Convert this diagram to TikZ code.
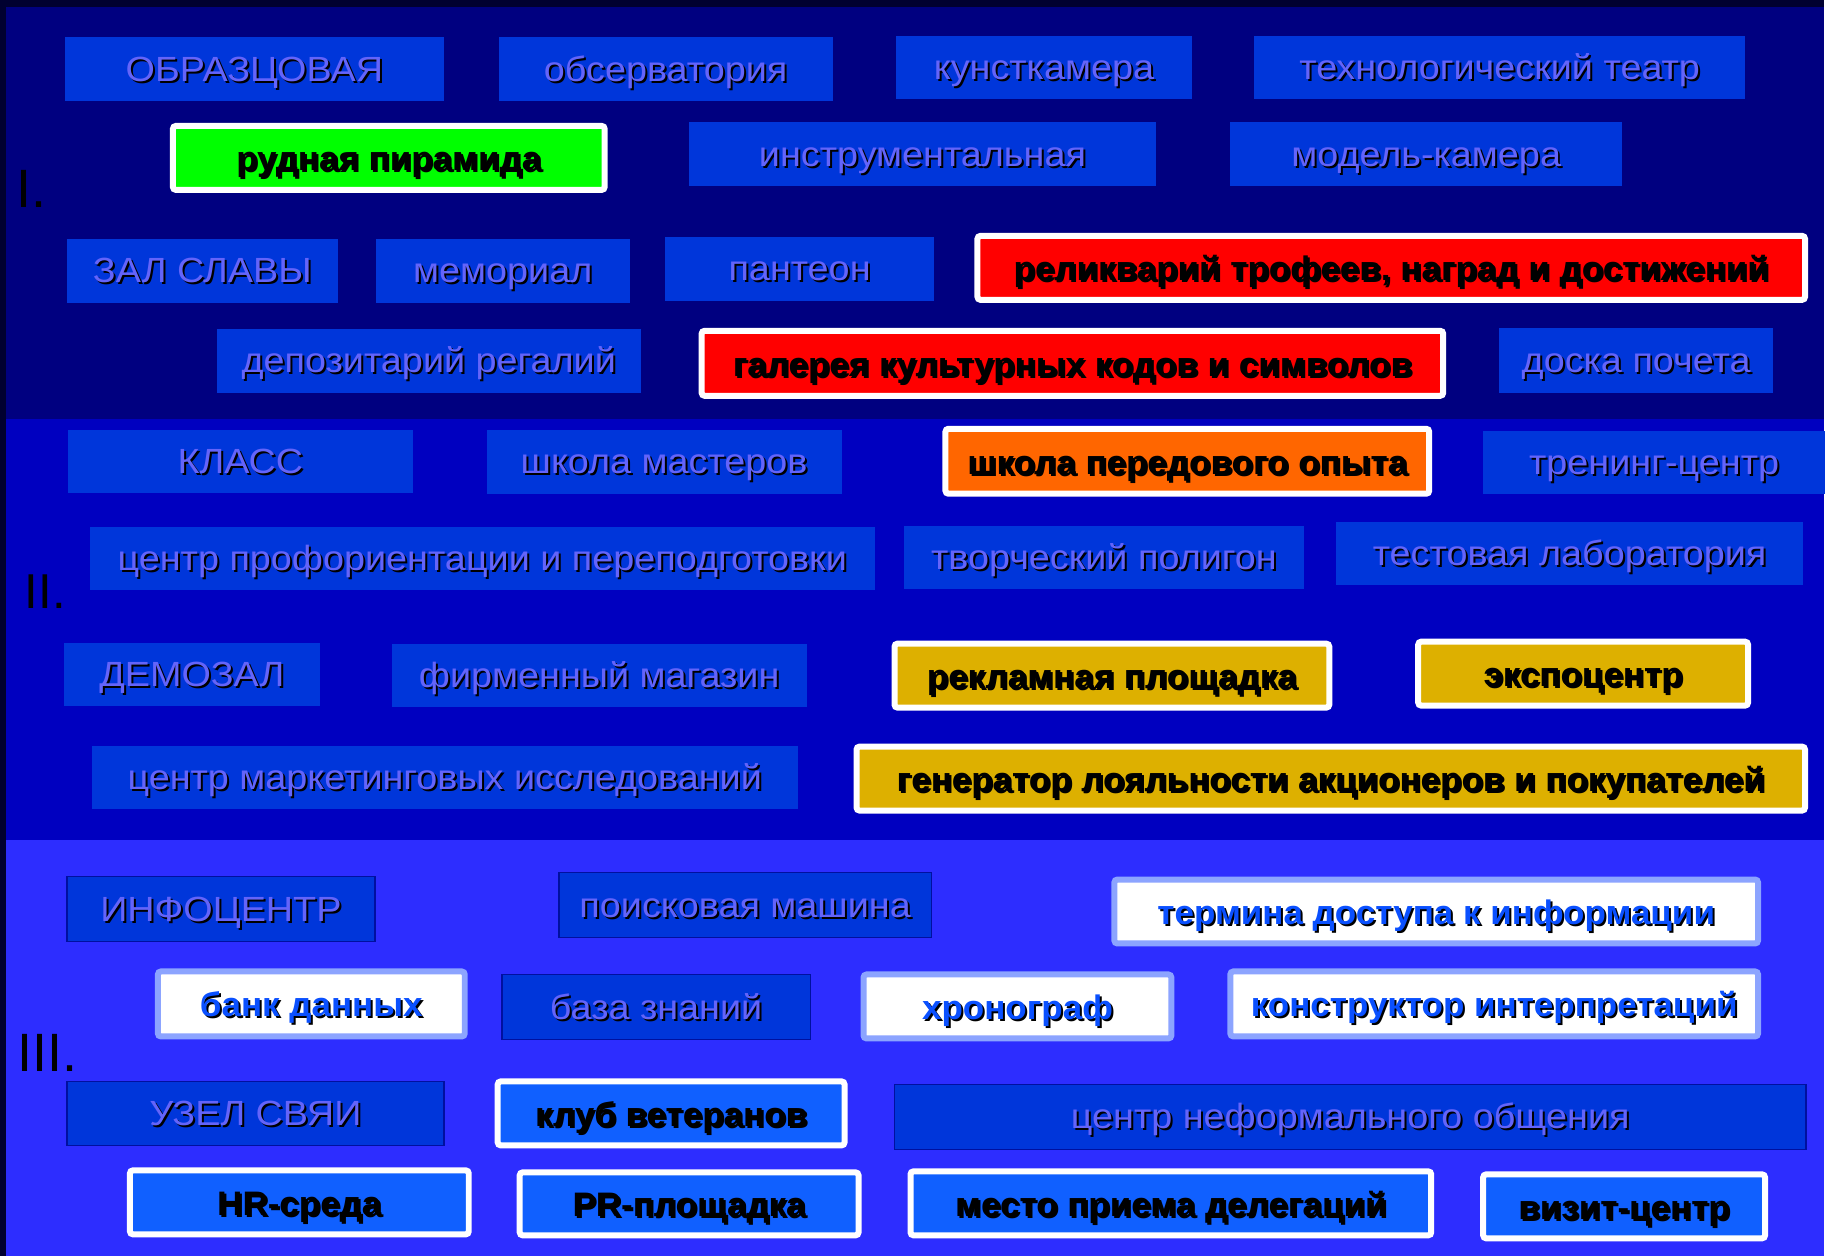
\documentclass[tikz,border=0pt]{standalone}
\usepackage{fontspec}
\setmainfont{Liberation Sans}[FakeStretch=1.08, BoldFeatures={FakeStretch=1.03}]
\newfontfamily\numfont{Liberation Sans}
\definecolor{outer}{HTML}{000030}
\definecolor{secA}{HTML}{000080}
\definecolor{secB}{HTML}{0000C0}
\definecolor{secC}{HTML}{2D2DFF}
\definecolor{regfill}{HTML}{0036DA}
\definecolor{regtext}{HTML}{6464FA}
\definecolor{regline}{HTML}{0010A0}
\definecolor{hgreen}{HTML}{00FF00}
\definecolor{hred}{HTML}{FF0000}
\definecolor{horange}{HTML}{FF6600}
\definecolor{hgold}{HTML}{DDB000}
\definecolor{hblue}{HTML}{1060FF}
\definecolor{lightrim}{HTML}{8CA4FF}
\definecolor{bluetext}{HTML}{0A50FF}
\newcommand\sh[1]{\rlap{\kern1pt\raisebox{-1pt}{\color{black}#1}}#1}
\newcommand\bx[7]{\node[#6, minimum width={(#4-#2)*0.5pt}, minimum height={(#5-#3)*0.5pt}] (#1) at ({(#2+#4)/2},{(#3+#5)/2}) {\sh{#7}};}
\newcommand\bbx[7]{\node[#6, minimum width={(#4-#2-6)*0.5pt}, minimum height={(#5-#3-6)*0.5pt}] (#1) at ({(#2+#4)/2},{(#3+#5)/2}) {\sh{#7}};}
\tikzset{
  box/.style={rectangle, inner sep=0pt, text height=15.8pt, text depth=3.7pt, font=\fontsize{17.5pt}{18pt}\selectfont},
  reg/.style={box, fill=regfill, text=regtext},
  regc/.style={reg, draw=regline, line width=0.8pt},
  hot/.style={box, draw=white, line width=3pt, rounded corners=1.5pt, text height=15.6pt, text depth=2.6pt, font=\bfseries\fontsize{17pt}{18pt}\selectfont, text=black},
  hgr/.style={hot, fill=hgreen},
  hrd/.style={hot, fill=hred},
  hor/.style={hot, fill=horange},
  hgd/.style={hot, fill=hgold},
  hbl/.style={hot, fill=hblue},
  hwt/.style={hot, fill=white, draw=lightrim, text=bluetext},
  num/.style={anchor=base west, inner sep=0pt, text=black}
}
\begin{document}
\begin{tikzpicture}[x=0.5pt, y=-0.5pt]
\fill[outer] (0,0) rectangle (1825,1257);
\fill[secA] (6,7) rectangle (1825,419);
\fill[secB] (6,419) rectangle (1825,840);
\fill[secC] (6,840) rectangle (1825,1257);
% Section I
\bx{ob}{65}{37}{444}{101}{reg}{ОБРАЗЦОВАЯ}
\bx{obs}{499}{37}{833}{101}{reg}{обсерватория}
\bx{kun}{896}{36}{1193}{99}{reg}{кунсткамера}
\bx{teh}{1255}{36}{1746}{99}{reg}{технологический театр}
\bbx{rud}{170}{123}{608}{193}{hgr}{рудная пирамида}
\bx{ins}{689}{122}{1157}{186}{reg}{инструментальная}
\bx{mod}{1231}{122}{1623}{186}{reg}{модель-камера}
\bx{zal}{67}{239}{338}{303}{reg}{ЗАЛ СЛАВЫ}
\bx{mem}{376}{239}{630}{303}{reg}{мемориал}
\bx{pan}{665}{237}{935}{301}{reg}{пантеон}
\bbx{rel}{975}{233}{1809}{303}{hrd}{реликварий трофеев, наград и достижений}
\bx{dep}{217}{329}{641}{393}{reg}{депозитарий регалий}
\bbx{gal}{699}{328}{1447}{399}{hrd}{галерея культурных кодов и символов}
\bx{dos}{1500}{328}{1774}{393}{reg}{доска почета}
% Section II
\bx{kla}{68}{430}{413}{493}{reg}{КЛАСС}
\bx{shm}{487}{430}{842}{494}{reg}{школа мастеров}
\bbx{shp}{943}{426}{1433}{497}{hor}{школа передового опыта}
\bx{tre}{1484}{431}{1826}{494}{reg}{тренинг-центр}
\bx{cpp}{90}{527}{875}{590}{reg}{центр профориентации и переподготовки}
\bx{tvp}{904}{526}{1305}{589}{reg}{творческий полигон}
\bx{tes}{1337}{522}{1804}{585}{reg}{тестовая лаборатория}
\bx{dem}{64}{643}{320}{706}{reg}{ДЕМОЗАЛ}
\bx{fir}{392}{644}{807}{707}{reg}{фирменный магазин}
\bbx{rek}{892}{641}{1333}{711}{hgd}{рекламная площадка}
\bbx{eks}{1416}{639}{1752}{709}{hgd}{экспоцентр}
\bx{cmi}{92}{746}{798}{809}{reg}{центр маркетинговых исследований}
\bbx{gen}{854}{744}{1809}{814}{hgd}{генератор лояльности акционеров и покупателей}
% Section III
\bx{inf}{67}{877}{375}{942}{regc}{ИНФОЦЕНТР}
\bx{poi}{559}{873}{932}{938}{regc}{поисковая машина}
\bbx{ter}{1112}{877}{1762}{947}{hwt}{термина доступа к информации}
\bbx{ban}{155}{969}{468}{1040}{hwt}{банк данных}
\bx{baz}{502}{975}{811}{1040}{regc}{база знаний}
\bbx{hro}{861}{972}{1175}{1042}{hwt}{хронограф}
\bbx{kon}{1228}{969}{1762}{1040}{hwt}{конструктор интерпретаций}
\bx{uze}{67}{1082}{444}{1146}{regc}{УЗЕЛ СВЯИ}
\bbx{klu}{495}{1079}{848}{1149}{hbl}{клуб ветеранов}
\bx{cno}{895}{1085}{1807}{1150}{regc}{центр неформального общения}
\bbx{hr}{127}{1168}{472}{1238}{hbl}{HR-среда}
\bbx{pr}{517}{1170}{862}{1239}{hbl}{PR-площадка}
\bbx{mes}{908}{1169}{1435}{1239}{hbl}{место приема делегаций}
\bbx{viz}{1481}{1172}{1769}{1242}{hbl}{визит-центр}
% Roman numerals
\node[num, font=\numfont\fontsize{27pt}{27pt}\selectfont] (n1) at (16,208) {I.};
\node[num, font=\numfont\fontsize{24.5pt}{25pt}\selectfont] (n2) at (24.5,609) {II.};
\node[num, font=\numfont\fontsize{27pt}{27pt}\selectfont] (n3) at (17.5,1072) {III.};
\end{tikzpicture}
\end{document}
